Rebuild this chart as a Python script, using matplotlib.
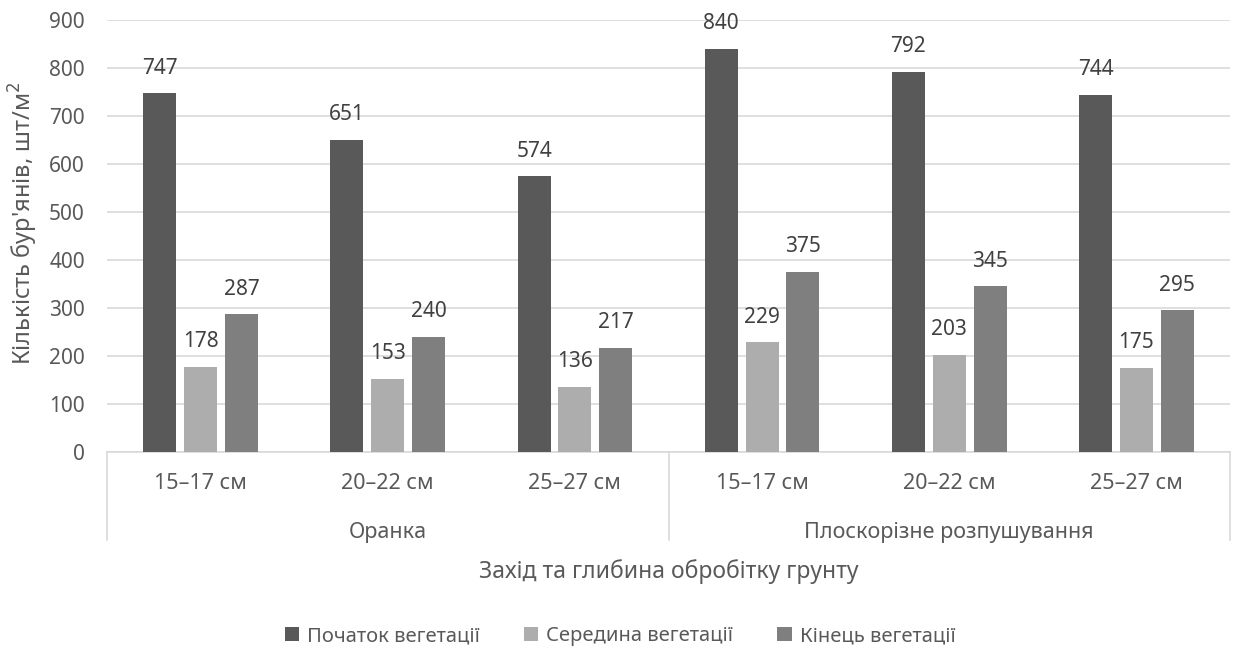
import numpy as np
import matplotlib
matplotlib.use("Agg")
import matplotlib.pyplot as plt

plt.rcParams['font.family'] = ['Noto Sans', 'DejaVu Sans']

depths = ["15–17 см", "20–22 см", "25–27 см", "15–17 см", "20–22 см", "25–27 см"]
methods = ["Оранка", "Плоскорізне розпушування"]
series_names = ["Початок вегетації", "Середина вегетації", "Кінець вегетації"]
start = [747, 651, 574, 840, 792, 744]
middle = [178, 153, 136, 229, 203, 175]
end = [287, 240, 217, 375, 345, 295]

colors = ["#595959", "#adadad", "#7f7f7f"]
txt = "#595959"
grid = "#d9d9d9"

fig = plt.figure(figsize=(12.4, 6.51), dpi=100)
ax = fig.add_axes([107 / 1240, 1 - 452 / 651, (1230 - 107) / 1240, (452 - 20) / 651])

x = np.arange(len(depths))
w = 0.176
step = 0.218
for i, (vals, name) in enumerate(zip([start, middle, end], series_names)):
    bars = ax.bar(x + (i - 1) * step, vals, w, color=colors[i], label=name, zorder=3)
    for b, v in zip(bars, vals):
        ax.annotate(str(v), (b.get_x() + b.get_width() / 2, v), xytext=(0, 18),
                    textcoords="offset points", ha="center", va="center",
                    fontsize=15, color="#404040")

ax.set_xlim(-0.5, len(depths) - 0.5)
ax.set_ylim(0, 900)
ax.set_yticks(range(0, 901, 100))
ax.yaxis.grid(True, color=grid, linewidth=1.2, zorder=0)
ax.tick_params(axis="y", length=0, labelsize=15, labelcolor=txt, pad=16)
ax.set_xticks([])
for s in ["top", "right", "left"]:
    ax.spines[s].set_visible(False)
ax.spines["bottom"].set_color(grid)
ax.spines["bottom"].set_linewidth(1.2)

# two-level category axis: depths, then tillage method
tr = ax.get_xaxis_transform()
for xi, lab in zip(x, depths):
    ax.text(xi, -0.072, lab, transform=tr, ha="center", va="center",
            fontsize=15.5, color=txt)
for k, m in enumerate(methods):
    ax.text(k * 3 + 1, -0.186, m, transform=tr, ha="center", va="center",
            fontsize=15.5, color=txt)
for xb in [-0.5, 2.5, 5.5]:
    ax.plot([xb, xb], [0, -0.204], transform=tr, color=grid, linewidth=1.2,
            clip_on=False)

ax.set_ylabel("Кількість бур'янів, шт/м$^2$", fontsize=17, color=txt,
              va="center")
ax.yaxis.set_label_coords(-0.0748, 0.53)

pos = ax.get_position()
fig.text(pos.x0 + pos.width / 2, 1 - 572 / 651, "Захід та глибина обробітку грунту",
         ha="center", va="center", fontsize=16.5, color=txt)

fig.legend(loc="center", bbox_to_anchor=(0.5, 1 - 636 / 651), ncol=3, frameon=False,
           fontsize=14.5, labelcolor=txt, handlelength=0.7, handleheight=0.7,
           handletextpad=0.4, columnspacing=2.2)

fig.savefig("out.png", dpi=100)
